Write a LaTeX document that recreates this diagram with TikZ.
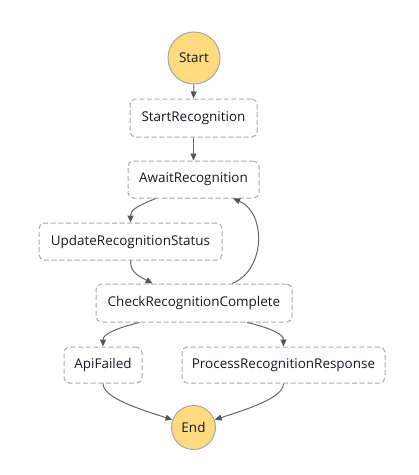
\documentclass[tikz,border=0pt]{standalone}
\usepackage{fontspec}
\setmainfont{Open Sans}
\usetikzlibrary{arrows.meta,calc}
\definecolor{circfill}{HTML}{FFDA7F}
\definecolor{circborder}{HTML}{A8A8A8}
\definecolor{boxgray}{HTML}{AAAAAA}
\definecolor{linegray}{HTML}{666666}
\definecolor{tipgray}{HTML}{555555}
\definecolor{textc}{HTML}{16191F}
\tikzset{
  state/.style={draw=boxgray, line width=0.75pt, dash pattern=on 3.75pt off 2pt,
    rounded corners=4pt, inner sep=0pt, text=textc,
    font=\fontsize{10.1pt}{12pt}\selectfont,
    minimum width=#1},
  term/.style={circle, draw=circborder, fill=circfill, line width=0.75pt,
    inner sep=0pt, text=textc, font=\fontsize{10.1pt}{12pt}\selectfont,
    minimum size=#1},
  conn/.style={draw=linegray, line width=0.75pt,
    -{Triangle[length=5.25pt,width=4.5pt,color=tipgray]}}
}
\begin{document}
\begin{tikzpicture}[x=0.75pt,y=-0.75pt]
\path[fill=white, use as bounding box] (0,0) rectangle (418,475);

\node[term=39pt] (start) at (194,58) {Start};
\node[state=95.25pt, minimum height=28.5pt] (sr) at (193.5,118) {StartRecognition};
\node[state=98.25pt, minimum height=27.75pt] (await) at (193.5,179.5) {AwaitRecognition};
\node[state=137.25pt, minimum height=27.75pt] (upd) at (130.5,241.5) {UpdateRecognitionStatus};
\node[state=147pt, minimum height=28.5pt] (chk) at (194,303) {CheckRecognitionComplete};
\node[state=58.5pt, minimum height=27pt] (api) at (103,365) {ApiFailed};
\node[state=152.25pt, minimum height=27pt] (proc) at (283.5,365) {ProcessRecognitionResponse};
\node[term=33pt] (end) at (193.5,427.5) {End};

\draw[conn] (start.south) -- (sr.north);
\draw[conn] (sr.south) -- (await.north);
\draw[conn] ($(await.south west)!0.214!(await.south east)$)
  .. controls +(-20,8) and +(0,-12) .. (upd.north);
\draw[conn] (upd.south)
  .. controls +(0,12) and +(-15,-8) .. ($(chk.north west)!0.29!(chk.north east)$);
\draw[conn] ($(chk.north west)!0.694!(chk.north east)$)
  .. controls +(34,-14) and +(33,14) .. ($(await.south west)!0.80!(await.south east)$);
\draw[conn] ($(chk.south west)!0.224!(chk.south east)$)
  .. controls +(-25,6) and +(0,-12) .. (api.north);
\draw[conn] ($(chk.south west)!0.77!(chk.south east)$)
  .. controls +(25,6) and +(0,-12) .. (proc.north);
\draw[conn] (api.south) .. controls +(0,15) and +(-30,-10) .. (end.160);
\draw[conn] (proc.south) .. controls +(0,15) and +(30,-10) .. (end.20);
\end{tikzpicture}
\end{document}
